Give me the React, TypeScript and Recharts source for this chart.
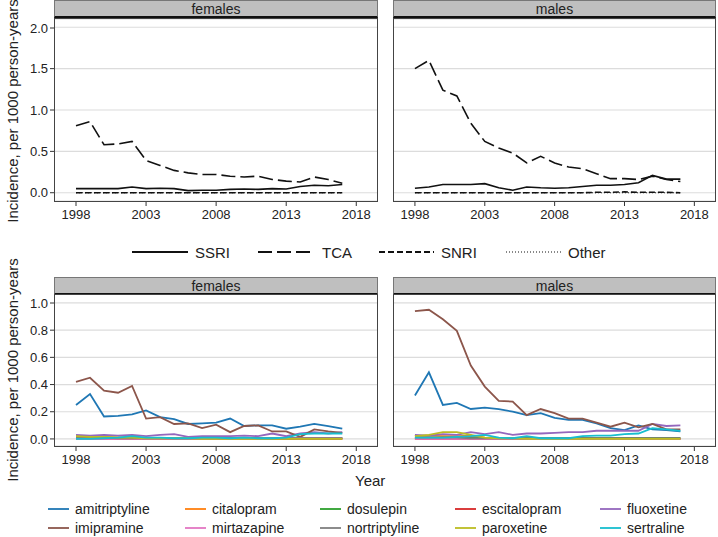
import React from 'react';
import { LineChart, Line, XAxis, YAxis, CartesianGrid } from 'recharts';

const years = [1998, 1999, 2000, 2001, 2002, 2003, 2004, 2005, 2006, 2007, 2008, 2009, 2010, 2011, 2012, 2013, 2014, 2015, 2016, 2017];
const xTicks = [1998, 2003, 2008, 2013, 2018];

// class-level incidence (top panels)
const femSSRI = [0.05, 0.05, 0.05, 0.05, 0.07, 0.05, 0.055, 0.05, 0.025, 0.03, 0.03, 0.04, 0.045, 0.04, 0.05, 0.045, 0.075, 0.09, 0.085, 0.1];
const femTCA = [0.81, 0.86, 0.58, 0.59, 0.62, 0.39, 0.33, 0.27, 0.24, 0.22, 0.22, 0.2, 0.19, 0.2, 0.16, 0.14, 0.13, 0.19, 0.16, 0.115];
const femSNRI = [0, 0, 0, 0, 0, 0, 0, 0, 0, 0, 0, 0, 0, 0, 0, 0, 0, 0, 0, 0];
const femOther = [0, 0, 0, 0, 0, 0, 0, 0, 0, 0, 0, 0, 0, 0, 0, 0, 0, 0, 0, 0];
const maleSSRI = [0.055, 0.07, 0.1, 0.1, 0.1, 0.11, 0.06, 0.03, 0.07, 0.06, 0.055, 0.06, 0.075, 0.09, 0.09, 0.1, 0.12, 0.21, 0.165, 0.165];
const maleTCA = [1.5, 1.6, 1.24, 1.17, 0.84, 0.62, 0.54, 0.48, 0.36, 0.44, 0.36, 0.31, 0.29, 0.23, 0.17, 0.17, 0.16, 0.2, 0.16, 0.135];
const maleSNRI = [0, 0, 0, 0, 0, 0, 0, 0, 0, 0, 0, 0, 0, 0.005, 0.005, 0.01, 0.005, 0.005, 0.005, 0];
const maleOther = [0, 0, 0, 0, 0, 0, 0, 0, 0, 0, 0, 0, 0, 0, 0, 0, 0, 0, 0, 0];

// drug-level incidence (bottom panels)
const femAmitriptyline = [0.25, 0.33, 0.165, 0.17, 0.18, 0.21, 0.16, 0.145, 0.11, 0.115, 0.12, 0.15, 0.095, 0.1, 0.1, 0.075, 0.09, 0.11, 0.095, 0.075];
const femCitalopram = [0.02, 0.02, 0.015, 0.01, 0.01, 0.01, 0.005, 0.005, 0.005, 0.005, 0.005, 0.005, 0.005, 0.005, 0.005, 0.005, 0.005, 0.005, 0.005, 0.005];
const femDosulepin = [0.01, 0.01, 0.01, 0.01, 0.01, 0.005, 0.005, 0.005, 0.005, 0.005, 0.005, 0.005, 0.005, 0.005, 0.005, 0.005, 0.005, 0.005, 0.005, 0.005];
const femEscitalopram = [0, 0, 0, 0, 0, 0, 0, 0, 0, 0, 0, 0, 0, 0, 0, 0, 0, 0, 0, 0];
const femFluoxetine = [0.03, 0.025, 0.03, 0.025, 0.03, 0.02, 0.03, 0.035, 0.015, 0.02, 0.02, 0.02, 0.025, 0.02, 0.04, 0.02, 0.04, 0.05, 0.04, 0.05];
const femImipramine = [0.42, 0.45, 0.355, 0.34, 0.39, 0.15, 0.16, 0.11, 0.115, 0.08, 0.105, 0.05, 0.095, 0.1, 0.055, 0.055, 0.015, 0.07, 0.055, 0.045];
const femMirtazapine = [0, 0, 0, 0, 0, 0, 0, 0, 0, 0, 0, 0, 0, 0, 0.005, 0.005, 0.005, 0.005, 0.005, 0.005];
const femNortriptyline = [0.01, 0.01, 0.01, 0.005, 0.005, 0.005, 0.005, 0.005, 0.005, 0.005, 0.005, 0.005, 0.005, 0.005, 0.005, 0.005, 0.005, 0.005, 0.005, 0.005];
const femParoxetine = [0.02, 0.015, 0.015, 0.01, 0.01, 0.005, 0.005, 0.005, 0.005, 0, 0, 0, 0, 0, 0, 0, 0, 0, 0, 0];
const femSertraline = [0, 0, 0.005, 0.01, 0.02, 0.01, 0.01, 0.005, 0.005, 0.01, 0.01, 0.005, 0.01, 0.005, 0.005, 0.01, 0.035, 0.04, 0.04, 0.04];

const maleAmitriptyline = [0.32, 0.49, 0.25, 0.265, 0.22, 0.23, 0.22, 0.2, 0.175, 0.19, 0.155, 0.14, 0.14, 0.115, 0.08, 0.065, 0.1, 0.07, 0.065, 0.055];
const maleCitalopram = [0.02, 0.025, 0.02, 0.02, 0.025, 0.01, 0.005, 0.005, 0.005, 0.005, 0.005, 0.005, 0.005, 0.005, 0.005, 0.005, 0.005, 0.005, 0.005, 0.005];
const maleDosulepin = [0.01, 0.01, 0.01, 0.01, 0.01, 0.005, 0.005, 0.005, 0.005, 0.005, 0.005, 0.005, 0.005, 0.005, 0.005, 0.005, 0.005, 0.005, 0.005, 0.005];
const maleEscitalopram = [0, 0, 0, 0, 0, 0, 0, 0, 0, 0, 0, 0, 0, 0, 0, 0, 0, 0, 0, 0];
const maleFluoxetine = [0.03, 0.025, 0.035, 0.03, 0.05, 0.035, 0.05, 0.03, 0.04, 0.04, 0.045, 0.05, 0.05, 0.06, 0.06, 0.06, 0.06, 0.11, 0.095, 0.1];
const maleImipramine = [0.94, 0.95, 0.88, 0.795, 0.54, 0.385, 0.28, 0.275, 0.175, 0.22, 0.19, 0.15, 0.15, 0.12, 0.09, 0.12, 0.085, 0.11, 0.07, 0.07];
const maleMirtazapine = [0, 0, 0, 0, 0, 0, 0, 0, 0, 0, 0, 0, 0, 0, 0, 0, 0, 0, 0, 0];
const maleNortriptyline = [0.01, 0.01, 0.01, 0.01, 0.005, 0.005, 0.005, 0.005, 0.005, 0.005, 0.005, 0.005, 0.005, 0.005, 0.005, 0.005, 0.005, 0.005, 0.005, 0.005];
const maleParoxetine = [0.02, 0.03, 0.05, 0.05, 0.03, 0.01, 0.005, 0.005, 0, 0, 0, 0, 0, 0, 0, 0, 0, 0, 0, 0];
const maleSertraline = [0.01, 0.01, 0.01, 0.015, 0.02, 0.03, 0.01, 0.005, 0.02, 0.005, 0.005, 0.005, 0.02, 0.025, 0.025, 0.035, 0.04, 0.08, 0.07, 0.06];

const classes = ['SSRI', 'TCA', 'SNRI', 'Other'];
const classDash: Record<string, string | undefined> = { SSRI: undefined, TCA: '14 5', SNRI: '6 3', Other: '1 2' };

const drugs = ['amitriptyline', 'citalopram', 'dosulepin', 'escitalopram', 'fluoxetine', 'imipramine', 'mirtazapine', 'nortriptyline', 'paroxetine', 'sertraline'];
const drugColors = ['#1f77b4', '#ff7f0e', '#2ca02c', '#d62728', '#9467bd', '#8c564b', '#e377c2', '#7f7f7f', '#bcbd22', '#17becf'];

const femClassData = years.map((year, i) => ({ year, SSRI: femSSRI[i], TCA: femTCA[i], SNRI: femSNRI[i], Other: femOther[i] }));
const maleClassData = years.map((year, i) => ({ year, SSRI: maleSSRI[i], TCA: maleTCA[i], SNRI: maleSNRI[i], Other: maleOther[i] }));

const femDrugData = years.map((year, i) => ({
  year,
  amitriptyline: femAmitriptyline[i], citalopram: femCitalopram[i], dosulepin: femDosulepin[i],
  escitalopram: femEscitalopram[i], fluoxetine: femFluoxetine[i], imipramine: femImipramine[i],
  mirtazapine: femMirtazapine[i], nortriptyline: femNortriptyline[i], paroxetine: femParoxetine[i],
  sertraline: femSertraline[i],
}));
const maleDrugData = years.map((year, i) => ({
  year,
  amitriptyline: maleAmitriptyline[i], citalopram: maleCitalopram[i], dosulepin: maleDosulepin[i],
  escitalopram: maleEscitalopram[i], fluoxetine: maleFluoxetine[i], imipramine: maleImipramine[i],
  mirtazapine: maleMirtazapine[i], nortriptyline: maleNortriptyline[i], paroxetine: maleParoxetine[i],
  sertraline: maleSertraline[i],
}));

const topTicks = [0, 0.5, 1, 1.5, 2];
const bottomTicks = [0, 0.1, 0.2, 0.3, 0.4, 0.5, 0.6, 0.7, 0.8, 0.9, 1.0];

const FONT = '"Liberation Sans", Arial, sans-serif';
const INK = '#222';
const xDomain = [1996.43, 2019.55];

const makeYTick = (minorCheck: boolean) => (props: any) => {
  const { x, y, payload } = props;
  const v = payload.value;
  const major = !minorCheck || Math.round(v * 10) % 2 === 0;
  return (
    <g>
      <line x1={x - (major ? 4 : 2.5)} x2={x} y1={y} y2={y} stroke="#333" strokeWidth={1} />
      {major && (
        <text x={x - 6} y={y} dy="0.36em" textAnchor="end" fontSize={13} fill={INK} fontFamily={FONT}>
          {v.toFixed(1)}
        </text>
      )}
    </g>
  );
};

const Strip = ({ label, left, top, width }: { label: string; left: number; top: number; width: number }) => (
  <div
    style={{
      position: 'absolute', left, top, width, height: 18, background: '#bfbfbf',
      borderTop: '1px solid #777', borderLeft: '1px solid #777', borderRight: '1px solid #777',
      borderBottom: '2px solid #111', boxSizing: 'border-box', textAlign: 'center',
      fontSize: 14, lineHeight: '16px', color: INK,
    }}
  >
    {label}
  </div>
);

const Frame = ({ left, top, width, height }: { left: number; top: number; width: number; height: number }) => (
  <div
    style={{
      position: 'absolute', left, top, width, height, border: '1px solid #444',
      boxSizing: 'border-box', pointerEvents: 'none',
    }}
  />
);

type PanelProps = {
  data: any[];
  left: number;
  top: number;
  width: number;
  height: number;
  showY: boolean;
  yDomain: number[];
  yTicks: number[];
  minor: boolean;
  keys: string[];
  colors?: string[];
  dashes?: Record<string, string | undefined>;
};

const Panel = ({ data, left, top, width, height, showY, yDomain, yTicks, minor, keys, colors, dashes }: PanelProps) => (
  <div style={{ position: 'absolute', left, top }}>
    <LineChart width={width} height={height} data={data} margin={{ top: 0, right: 2, bottom: 0, left: 0 }}>
      <CartesianGrid vertical={false} stroke="#dcdcdc" strokeWidth={1.2} />
      <XAxis
        dataKey="year"
        type="number"
        domain={xDomain}
        ticks={xTicks}
        allowDataOverflow
        axisLine={false}
        tickSize={5}
        tickMargin={4}
        tickLine={{ stroke: '#333' }}
        tick={{ fontSize: 13, fill: INK, fontFamily: FONT }}
        height={30}
      />
      <YAxis
        type="number"
        domain={yDomain}
        ticks={yTicks}
        allowDataOverflow
        hide={!showY}
        width={54}
        axisLine={false}
        tickLine={false}
        tickSize={0}
        tickMargin={0}
        tick={makeYTick(minor)}
      />
      {keys.map((k, i) => (
        <Line
          key={k}
          dataKey={k}
          type="linear"
          stroke={colors ? colors[i] : '#111'}
          strokeWidth={colors ? 1.8 : k === 'Other' ? 1.2 : 1.6}
          strokeDasharray={dashes ? dashes[k] : undefined}
          dot={false}
          isAnimationActive={false}
        />
      ))}
    </LineChart>
  </div>
);

const LegendLine = ({ dash, color, width }: { dash?: string; color: string; width: number }) => (
  <svg width={width} height={6} style={{ display: 'block' }}>
    <line x1={0} x2={width} y1={3} y2={3} stroke={color} strokeWidth={dash === '1 2' ? 1.2 : 1.8} strokeDasharray={dash} />
  </svg>
);

const classLegendPos = [
  { line: 132, text: 195 },
  { line: 258, text: 322 },
  { line: 379, text: 441 },
  { line: 506, text: 568 },
];
const drugLegendCols = [48, 185, 320, 455, 600];

const yTitle = (centerY: number) => (
  <div
    style={{
      position: 'absolute', left: 12, top: centerY, width: 0, height: 0,
    }}
  >
    <div
      style={{
        position: 'absolute', transform: 'translate(-50%, -50%) rotate(-90deg)',
        whiteSpace: 'nowrap', fontSize: 15, color: INK,
      }}
    >
      Incidence, per 1000 person-years
    </div>
  </div>
);

export default function App() {
  return (
    <div style={{ position: 'absolute', left: 0, top: 0, width: 718, height: 537, background: '#fff', fontFamily: FONT }}>
      {/* top row: drug classes */}
      <Strip label="females" left={54} top={0} width={324} />
      <Strip label="males" left={393} top={0} width={323} />
      <Panel data={femClassData} left={0} top={19} width={380} height={212} showY yDomain={[-0.1, 2.1]} yTicks={topTicks} minor={false} keys={classes} dashes={classDash} />
      <Panel data={maleClassData} left={393} top={19} width={325} height={212} showY={false} yDomain={[-0.1, 2.1]} yTicks={topTicks} minor={false} keys={classes} dashes={classDash} />
      <Frame left={54} top={18} width={324} height={184} />
      <Frame left={393} top={18} width={323} height={184} />
      {yTitle(111)}

      {classes.map((c, i) => (
        <div key={c} style={{ position: 'absolute', top: 243, left: classLegendPos[i].line, display: 'flex', alignItems: 'center', height: 18 }}>
          <LegendLine dash={classDash[c]} color="#111" width={classLegendPos[i].text - classLegendPos[i].line - 7} />
          <span style={{ marginLeft: 7, fontSize: 15, color: INK }}>{c}</span>
        </div>
      ))}

      {/* bottom row: individual drugs */}
      <Strip label="females" left={54} top={277} width={324} />
      <Strip label="males" left={393} top={277} width={323} />
      <Panel data={femDrugData} left={0} top={294} width={380} height={182} showY yDomain={[-0.052, 1.066]} yTicks={bottomTicks} minor keys={drugs} colors={drugColors} />
      <Panel data={maleDrugData} left={393} top={294} width={325} height={182} showY={false} yDomain={[-0.052, 1.066]} yTicks={bottomTicks} minor keys={drugs} colors={drugColors} />
      <Frame left={54} top={294} width={324} height={153} />
      <Frame left={393} top={294} width={323} height={153} />
      {yTitle(370)}

      <div style={{ position: 'absolute', top: 472, left: 355, fontSize: 15, color: INK }}>Year</div>

      {drugs.map((d, i) => (
        <div
          key={d}
          style={{
            position: 'absolute', left: drugLegendCols[i % 5], top: 500 + Math.floor(i / 5) * 19,
            display: 'flex', alignItems: 'center', height: 18,
          }}
        >
          <LegendLine color={drugColors[i]} width={21} />
          <span style={{ marginLeft: 6, fontSize: 14, color: INK }}>{d}</span>
        </div>
      ))}
    </div>
  );
}
